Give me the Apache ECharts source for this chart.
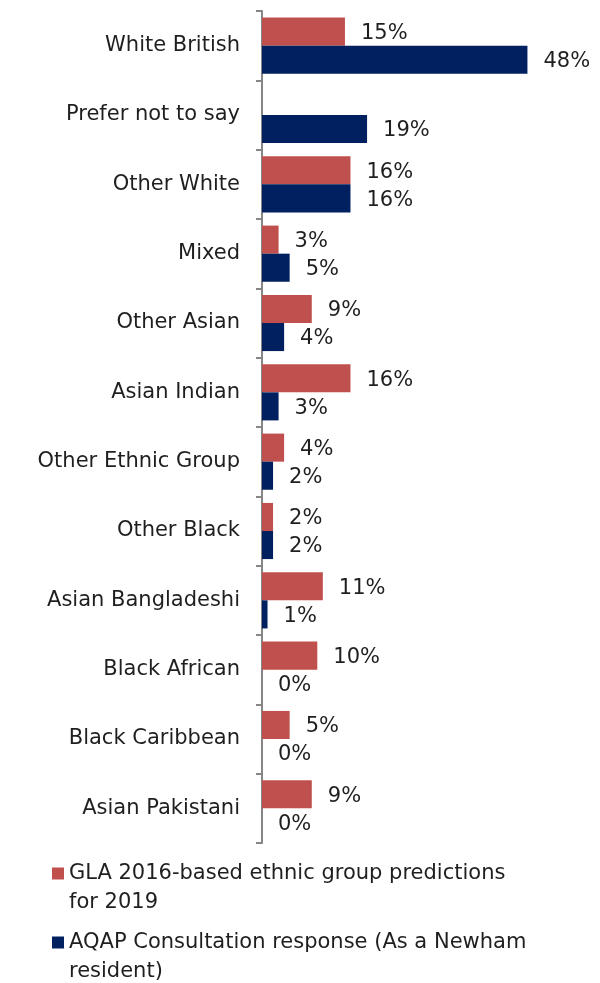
<!DOCTYPE html>
<html>
<head>
<meta charset="utf-8">
<title>Ethnic group comparison</title>
<script src="https://cdn.jsdelivr.net/npm/echarts@6/dist/echarts.min.js"></script>
<style>
  html, body { margin: 0; padding: 0; background: #fff; }
  #chart { width: 600px; height: 983px; }
</style>
</head>
<body>
<div id="chart"></div>
<script>
// Ethnic groups, listed top to bottom
const categories = [
  'White British', 'Prefer not to say', 'Other White', 'Mixed', 'Other Asian',
  'Asian Indian', 'Other Ethnic Group', 'Other Black', 'Asian Bangladeshi',
  'Black African', 'Black Caribbean', 'Asian Pakistani'
];

// Percent of population per group
const glaValues  = [15, null, 16, 3, 9, 16, 4, 2, 11, 10, 5, 9];
const aqapValues = [48, 19, 16, 5, 4, 3, 2, 2, 1, 0, 0, 0];

const seriesNames = [
  'GLA 2016-based ethnic group predictions for 2019',
  'AQAP Consultation response (As a Newham resident)'
];
// Legend text split over two lines; the leading blank line keeps the
// first line centred on the swatch (legend text is centred on its icon).
const legendLines = {
  [seriesNames[0]]: '\nGLA 2016-based ethnic group predictions\nfor 2019',
  [seriesNames[1]]: '\nAQAP Consultation response (As a Newham\nresident)'
};

const FONT = 'DejaVu Sans';
const TEXT = '#1f1f1f';
const chart = echarts.init(document.getElementById('chart'), null, { renderer: 'canvas' });

const labelStyle = {
  show: true,
  position: 'right',
  distance: 16,
  color: TEXT,
  fontFamily: FONT,
  fontSize: 21,
  offset: [0, 2],
  formatter: p => p.value + '%'
};

function legendFor(name, top) {
  return {
    orient: 'vertical',
    left: 47,
    top: top,
    itemWidth: 12,
    itemHeight: 12,
    icon: 'rect',
    selectedMode: false,
    data: [name],
    formatter: n => legendLines[n],
    textStyle: {
      color: TEXT,
      fontFamily: FONT,
      fontSize: 21,
      lineHeight: 29
    }
  };
}

chart.setOption({
  animation: false,
  grid: { left: 262, top: 11, bottom: 140, width: 276.5, containLabel: false },
  xAxis: {
    type: 'value',
    min: 0,
    max: 50,
    show: false,
    splitLine: { show: false }
  },
  yAxis: {
    type: 'category',
    data: categories,
    inverse: true,
    axisLine: { show: true, lineStyle: { color: '#868686', width: 2 } },
    axisTick: { show: true, length: 6, lineStyle: { color: '#868686', width: 2 } },
    axisLabel: { margin: 22, color: TEXT, fontFamily: FONT, fontSize: 21 }
  },
  legend: [
    legendFor(seriesNames[0], 825),
    legendFor(seriesNames[1], 894)
  ],
  series: [
    {
      name: seriesNames[0],
      type: 'bar',
      data: glaValues,
      barGap: '0%',
      barCategoryGap: '19%',
      itemStyle: { color: '#C0504D' },
      label: labelStyle
    },
    {
      name: seriesNames[1],
      type: 'bar',
      data: aqapValues,
      barGap: '0%',
      barCategoryGap: '19%',
      itemStyle: { color: '#002060' },
      label: labelStyle
    }
  ]
});
</script>
</body>
</html>
